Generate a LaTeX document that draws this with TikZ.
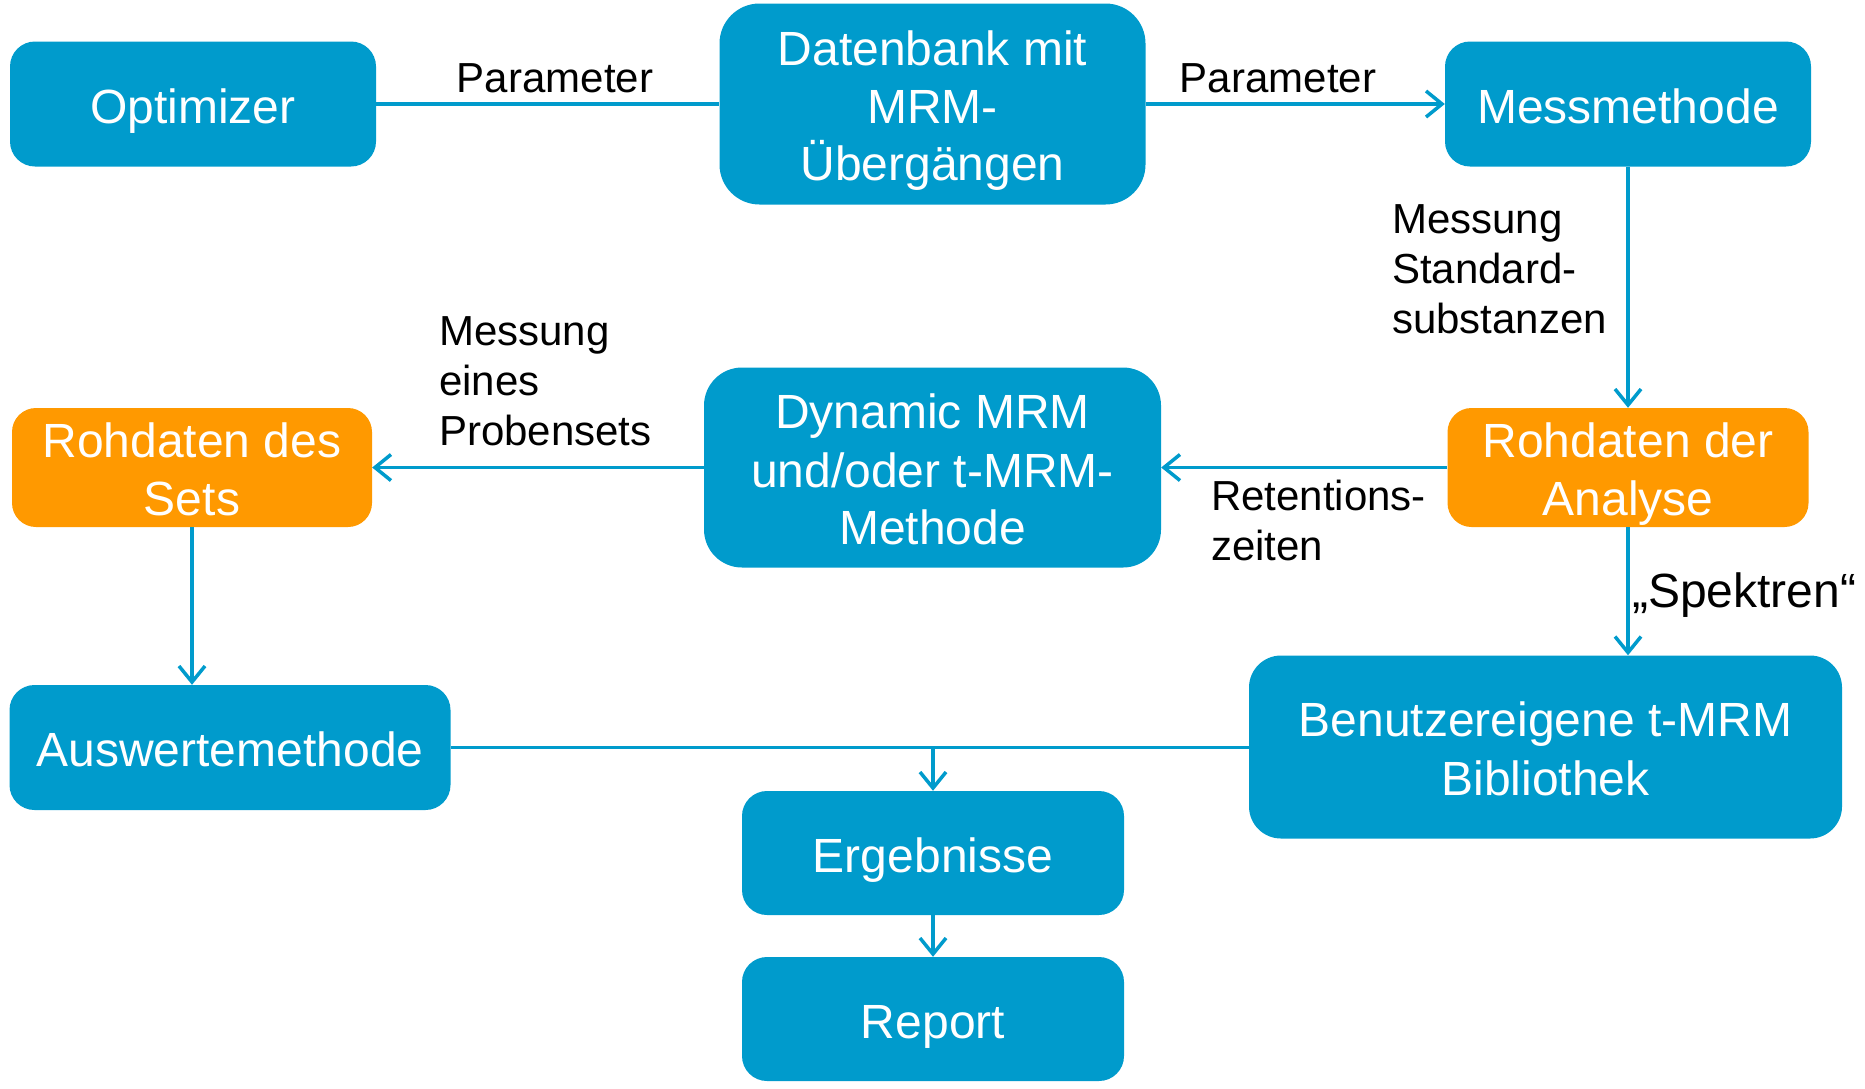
\documentclass[tikz,border=0pt]{standalone}
\usepackage{fontspec}
\setmainfont{Liberation Sans}
\usetikzlibrary{arrows.meta}
\definecolor{boxblue}{RGB}{0,155,204}
\definecolor{boxorange}{RGB}{255,153,0}
\newcommand\bstr{\rule[-0.2em]{0pt}{1.2em}}
\tikzset{
  bx/.style={rounded corners=#1, inner sep=0pt, align=center, text=white,
    font=\fontsize{48}{57.6}\selectfont},
  bluebox/.style={bx=#1, fill=boxblue},
  orangebox/.style={bx=#1, fill=boxorange},
  conn/.style={draw=boxblue, line width=3.5pt},
  arr/.style={conn, -{Straight Barb[length=16pt,width=26pt,line width=3.5pt]}},
  lbl/.style={inner sep=0pt, align=left, text=black,
    font=\fontsize{42}{50}\selectfont},
}
\begin{document}
\begin{tikzpicture}[x=1pt,y=-1pt]
\useasboundingbox (0,0) rectangle (1865,1088);
% boxes
\node[bluebox=25pt, minimum width=366pt, minimum height=125pt] (opt) at (193,104) {\bstr Optimizer};
\node[bluebox=40pt, minimum width=426pt, minimum height=201pt] (db) at (932.5,104) {\bstr Datenbank mit\\\bstr MRM-\\\bstr Übergängen};
\node[bluebox=25pt, minimum width=366pt, minimum height=125pt] (mess) at (1628,104) {\bstr Messmethode};
\node[orangebox=24pt, minimum width=361pt, minimum height=119pt] (rda) at (1628,467.5) {\bstr Rohdaten der\\\bstr Analyse};
\node[bluebox=38pt, minimum width=457pt, minimum height=200pt] (dyn) at (932.5,467.5) {\bstr Dynamic MRM\\\bstr und/oder t-MRM-\\\bstr Methode};
\node[orangebox=24pt, minimum width=360pt, minimum height=119pt] (rds) at (192,467.5) {\bstr Rohdaten des\\\bstr Sets};
\node[bluebox=25pt, minimum width=441pt, minimum height=125pt] (ausw) at (230,747.5) {\bstr Auswertemethode};
\node[bluebox=32pt, minimum width=593pt, minimum height=183pt] (bib) at (1545.5,747) {\bstr Benutzereigene t-MRM\\\bstr Bibliothek};
\node[bluebox=25pt, minimum width=382pt, minimum height=124pt] (erg) at (933,853) {\bstr Ergebnisse};
\node[bluebox=25pt, minimum width=382pt, minimum height=124pt] (rep) at (933,1019) {\bstr Report};
% connectors
\draw[conn] (opt) -- (db);
\draw[arr] (db) -- (mess);
\draw[arr] (mess) -- (rda);
\draw[arr] (rda) -- (dyn);
\draw[arr] (dyn) -- (rds);
\draw[arr] (rds.south) -- (rds.south |- ausw.north);
\draw[arr] (rda.south) -- (rda.south |- bib.north);
\draw[conn] (ausw.east) -- (ausw.east -| bib.west);
\coordinate (j) at (erg.north |- ausw.east);
\draw[arr] (j) -- (erg.north);
\draw[arr] (erg) -- (rep);
% labels (base = baseline of last line)
\node[lbl, anchor=base] (p1) at (555,92) {Parameter};
\node[lbl, anchor=base] (p2) at (1278,92) {Parameter};
\node[lbl, anchor=base west] (m1) at (1392,333) {Messung\\Standard-\\substanzen};
\node[lbl, anchor=base west] (m2) at (439,445) {Messung\\eines\\Probensets};
\node[lbl, anchor=base west] (rz) at (1211,560) {Retentions-\\zeiten};
\node[lbl, anchor=base west, font=\fontsize{48}{57.6}\selectfont] (sp) at (1632,607) {„Spektren“};
\end{tikzpicture}
\end{document}
